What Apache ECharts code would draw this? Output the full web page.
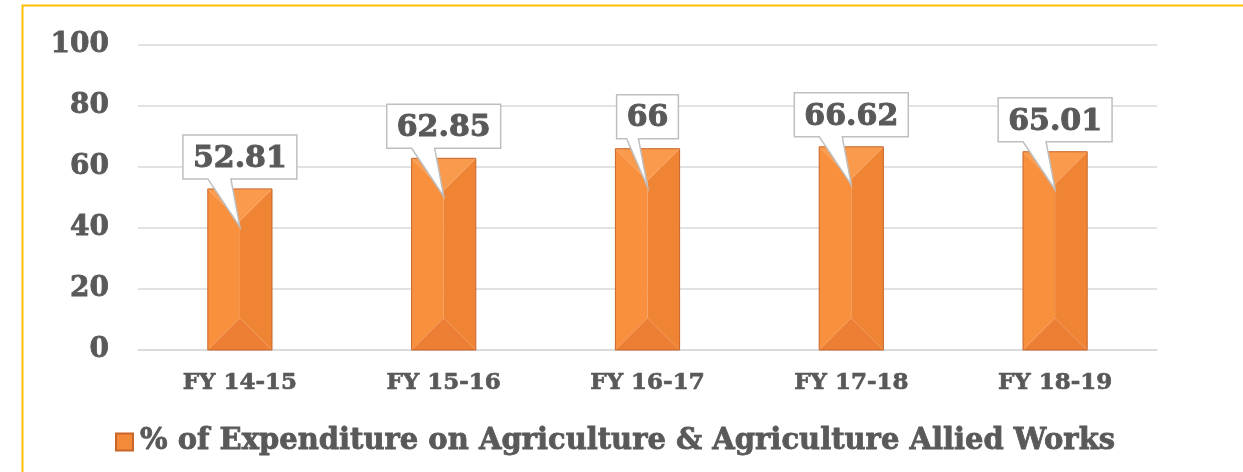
<!DOCTYPE html>
<html>
<head>
<meta charset="utf-8">
<script src="https://cdn.jsdelivr.net/npm/echarts@6/dist/echarts.min.js"></script>
<style>
html,body{margin:0;padding:0;background:#fff;}
#chart{width:1243px;height:472px;}
</style>
</head>
<body>
<div id="chart"></div>
<script>
const categories = ['FY 14-15', 'FY 15-16', 'FY 16-17', 'FY 17-18', 'FY 18-19'];
const values = [52.81, 62.85, 66, 66.62, 65.01];
const labelTexts = ['52.81', '62.85', '66', '66.62', '65.01'];
const seriesName = '% of Expenditure on Agriculture & Agriculture Allied Works';

const FONT = '"DejaVu Serif", Georgia, serif';
const TEXT_COLOR = '#595959';
const LABEL_SIZE = 30;

const measureCtx = document.createElement('canvas').getContext('2d');
function textWidth(t) {
  measureCtx.font = 'bold ' + LABEL_SIZE + 'px ' + FONT;
  return measureCtx.measureText(t).width;
}

const chart = echarts.init(document.getElementById('chart'), null, {renderer: 'canvas'});

function renderBar(params, api) {
  const i = api.value(0), v = api.value(1);
  const top = api.coord([i, v]);
  const base = api.coord([i, 0]);
  const bw = api.size([1, 0])[0] * 0.315;
  const cx = top[0], l = cx - bw / 2, r = cx + bw / 2, t = top[1], b = base[1];
  const h = bw / 2;
  return {
    type: 'group',
    children: [
      {type: 'polygon', shape: {points: [[l, t], [cx, t + h], [cx, b - h], [l, b]]}, style: {fill: '#F8903E'}},
      {type: 'polygon', shape: {points: [[r, t], [cx, t + h], [cx, b - h], [r, b]]}, style: {fill: '#EE8434'}},
      {type: 'polygon', shape: {points: [[l, t], [r, t], [cx, t + h]]}, style: {fill: '#F99A4C'}},
      {type: 'polygon', shape: {points: [[l, b], [r, b], [cx, b - h]]}, style: {fill: '#EC7F33'}},
      {type: 'rect', shape: {x: l, y: t, width: bw, height: b - t}, style: {fill: null, stroke: '#C9642A', lineWidth: 1}}
    ]
  };
}

function renderCallout(params, api) {
  const i = api.value(0), v = api.value(1);
  const p = api.coord([i, v]);
  const cx = p[0], t = p[1];
  const txt = labelTexts[params.dataIndex];
  const w = textWidth(txt) + 20;
  const l = cx - w / 2, r = cx + w / 2;
  const top = t - 54, bot = t - 10;
  const bl = Math.max(cx - 32, l + 10), br = cx - 9;
  return {
    type: 'group',
    children: [
      {type: 'polygon', shape: {points: [[l, top], [r, top], [r, bot], [br, bot], [cx, t + 38], [bl, bot], [l, bot]]},
        style: {fill: '#FFFFFF', stroke: '#BFBFBF', lineWidth: 1.5}},
      {type: 'text', x: cx, y: (top + bot) / 2 + 2,
        style: {text: txt, fontFamily: FONT, fontWeight: 'bold', fontSize: LABEL_SIZE, fill: TEXT_COLOR,
          stroke: TEXT_COLOR, lineWidth: 1, align: 'center', verticalAlign: 'middle'}}
    ]
  };
}

const barData = values.map((v, i) => [i, v]);

chart.setOption({
  animation: false,
  backgroundColor: '#FFFFFF',
  graphic: [{
    type: 'rect', left: 20, top: 3, z: 100,
    shape: {x: 0, y: 0, width: 1400, height: 600},
    style: {fill: null, stroke: '#FFC000', lineWidth: 2}
  }],
  grid: {left: 138, right: 86, top: 45, bottom: 122, containLabel: false},
  legend: {
    left: 110, top: 422,
    itemWidth: 17, itemHeight: 17, itemGap: 10,
    icon: 'rect',
    data: [seriesName],
    textStyle: {fontFamily: FONT, fontWeight: 'bold', fontSize: 29, color: TEXT_COLOR,
      textBorderColor: TEXT_COLOR, textBorderWidth: 0.8, padding: [0, 0, 0, 2]}
  },
  xAxis: {
    type: 'category',
    data: categories,
    axisLine: {show: true, lineStyle: {color: '#D9D9D9', width: 1.5}},
    axisTick: {show: false},
    axisLabel: {fontFamily: FONT, fontWeight: 'bold', fontSize: 23, color: TEXT_COLOR,
      textBorderColor: TEXT_COLOR, textBorderWidth: 0.7, margin: 22}
  },
  yAxis: {
    type: 'value',
    min: 0, max: 100, interval: 20,
    axisLine: {show: false},
    axisTick: {show: false},
    splitLine: {lineStyle: {color: '#D9D9D9', width: 1.5}},
    axisLabel: {fontFamily: FONT, fontWeight: 'bold', fontSize: 28, color: TEXT_COLOR,
      textBorderColor: TEXT_COLOR, textBorderWidth: 0.8, margin: 29}
  },
  series: [
    {
      name: seriesName,
      type: 'custom',
      renderItem: renderBar,
      data: barData,
      encode: {x: 0, y: 1},
      itemStyle: {color: '#F28A3A', borderColor: '#C9642A', borderWidth: 1}
    },
    {
      name: 'labels',
      type: 'custom',
      renderItem: renderCallout,
      data: barData,
      encode: {x: 0, y: 1},
      z: 5,
      silent: true
    }
  ]
});
</script>
</body>
</html>
